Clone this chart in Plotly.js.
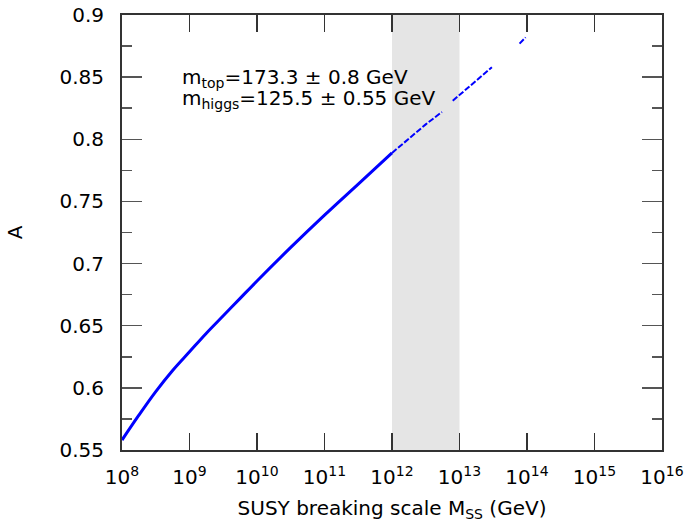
<!DOCTYPE html>
<html>
<head>
<meta charset="utf-8">
<script src="https://cdn.plot.ly/plotly-3.0.1.min.js"></script>
<style>html,body{margin:0;padding:0;background:#fff}</style>
</head>
<body>
<div id="chart" style="width:687px;height:523px"></div>
<script>
// log10 of SUSY breaking scale (GeV) and coupling A
const logMssLow = [8.0, 8.25, 8.5, 8.75, 9.0, 9.25, 9.5, 9.75, 10.0, 10.5, 11.0, 11.5, 12.0];
const aLow      = [0.558, 0.578, 0.597, 0.614, 0.629, 0.644, 0.658, 0.672, 0.686, 0.713, 0.739, 0.764, 0.789];
const logMssHigh = [12.0, 12.5, 12.74, null, 12.9, 13.2, 13.48, null, 13.89, 13.98];
const aHigh      = [0.789, 0.812, 0.822, null, 0.831, 0.845, 0.858, null, 0.877, 0.882];
const bandRange = [1e12, 1e13];
const xTickVals = [1e8, 1e9, 1e10, 1e11, 1e12, 1e13, 1e14, 1e15, 1e16];
const xTickLabels = ['10<sup>8</sup>', '10<sup>9</sup>', '10<sup>10</sup>', '10<sup>11</sup>', '10<sup>12</sup>',
                     '10<sup>13</sup>', '10<sup>14</sup>', '10<sup>15</sup>', '10<sup>16</sup>'];
const yTickVals = [0.55, 0.6, 0.65, 0.7, 0.75, 0.8, 0.85, 0.9];
const yTickLabels = ['0.55', '0.6', '0.65', '0.7', '0.75', '0.8', '0.85', '0.9'];
const label1 = 'm<sub>top</sub>=173.3 ± 0.8 GeV';
const label2 = 'm<sub>higgs</sub>=125.5 ± 0.55 GeV';

const toM = a => a.map(v => v === null ? null : Math.pow(10, v));

const traces = [
  {x: toM(logMssLow), y: aLow, mode: 'lines', line: {color: '#0000ff', width: 3, shape: 'spline', smoothing: 1}, showlegend: false, hoverinfo: 'skip'},
  {x: toM(logMssHigh), y: aHigh, mode: 'lines', connectgaps: false, line: {color: '#0000ff', width: 2, dash: '6px,2px'}, showlegend: false, hoverinfo: 'skip'}
];

const font = {family: 'DejaVu Sans', size: 20, color: '#000'};
const layout = {
  width: 687, height: 523,
  margin: {l: 122, r: 25, t: 15, b: 73},
  paper_bgcolor: '#fff', plot_bgcolor: '#fff',
  font: font,
  showlegend: false,
  xaxis: {
    type: 'log', range: [8, 16.0001],
    tickvals: xTickVals, ticktext: xTickLabels, tickangle: 0,
    ticks: 'inside', ticklen: 17, tickwidth: 1.5, tickcolor: '#333',
    showline: true, linecolor: '#333', linewidth: 2, mirror: 'allticks',
    showgrid: false, zeroline: false,
    tickfont: font, ticklabelstandoff: 8,
    title: {text: 'SUSY breaking scale M<sub>SS</sub> (GeV)', font: font, standoff: 13}
  },
  yaxis: {
    range: [0.55, 0.9],
    tickvals: yTickVals, ticktext: yTickLabels,
    ticks: 'inside', ticklen: 20, tickwidth: 1.5, tickcolor: '#555',
    minor: {dtick: 0.025, ticks: 'inside', ticklen: 10, tickwidth: 1.5, tickcolor: '#555', showgrid: false},
    showline: true, linecolor: '#333', linewidth: 2, mirror: 'allticks',
    showgrid: false, zeroline: false,
    tickfont: font, ticklabelstandoff: 12,
    title: {text: 'A', font: font, standoff: 31}
  },
  shapes: [{
    type: 'rect', xref: 'x', yref: 'paper', x0: bandRange[0], x1: bandRange[1], y0: 0, y1: 1,
    fillcolor: '#e5e5e5', line: {width: 0}, layer: 'below'
  }],
  annotations: [
    {xref: 'paper', yref: 'paper', x: 0.107, y: 0.855, xanchor: 'left', yanchor: 'middle', text: label1, showarrow: false, font: font},
    {xref: 'paper', yref: 'paper', x: 0.107, y: 0.807, xanchor: 'left', yanchor: 'middle', text: label2, showarrow: false, font: font}
  ]
};

Plotly.newPlot('chart', traces, layout, {staticPlot: true, displayModeBar: false});
</script>
</body>
</html>
